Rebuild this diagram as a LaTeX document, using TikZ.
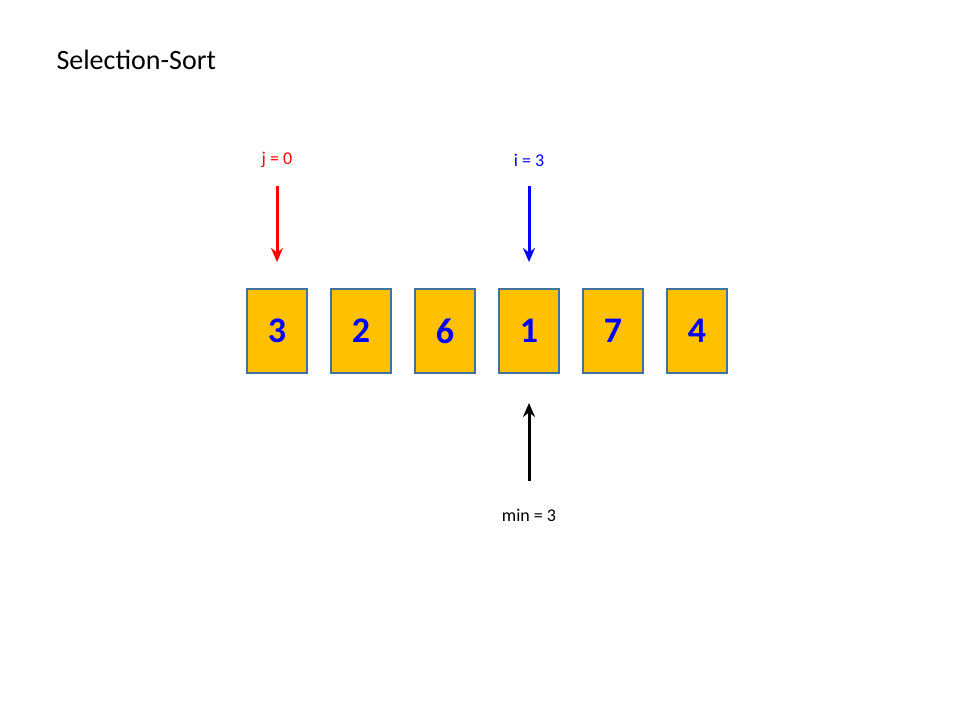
\documentclass[tikz,border=0pt]{standalone}
\usepackage{fontspec}
\setmainfont{Carlito}
\usetikzlibrary{positioning}
\usetikzlibrary{arrows.meta}
\definecolor{cellfill}{HTML}{FFC000}
\definecolor{cellline}{HTML}{41719C}
\definecolor{numblue}{HTML}{0000FF}
\definecolor{jred}{HTML}{FF0000}
\tikzset{
    cell/.style={draw=cellline,line width=1.5pt,fill=cellfill,
        minimum width=60pt,minimum height=84pt,inner sep=0pt,
        text=numblue,font=\fontsize{36}{36}\selectfont\bfseries},
    pointer/.style={line width=3pt,-{Stealth[length=14pt,width=12pt]}},
    tag/.style={font=\fontsize{18}{18}\selectfont}
}
\begin{document}
\begin{tikzpicture}[x=1pt,y=-1pt]
    \useasboundingbox (0,0) rectangle (960,720);
    % title
    \node[anchor=west,font=\fontsize{28}{28}\selectfont] (title) at (53,60) {Selection-Sort};
    % cells
    \foreach \v [count=\k from 0] in {3,2,6,1,7,4}
        \node[cell] (c\k) at (277+84*\k,331) {\v};
    % j pointer
    \node[tag,text=jred] (jlab) at (277,160) {j = 0};
    \coordinate (jend) at (277,262);
    \draw[pointer,draw=jred] (277,186) -- (jend);
    % i pointer
    \node[tag,text=numblue] (ilab) at (529,160) {i = 3};
    \coordinate (iend) at (529,262);
    \draw[pointer,draw=numblue] (529,186) -- (iend);
    % min pointer
    \node[tag] (mlab) at (529,515) {min = 3};
    \coordinate (mend) at (529,403);
    \draw[pointer] (529,481) -- (mend);
\end{tikzpicture}
\end{document}
